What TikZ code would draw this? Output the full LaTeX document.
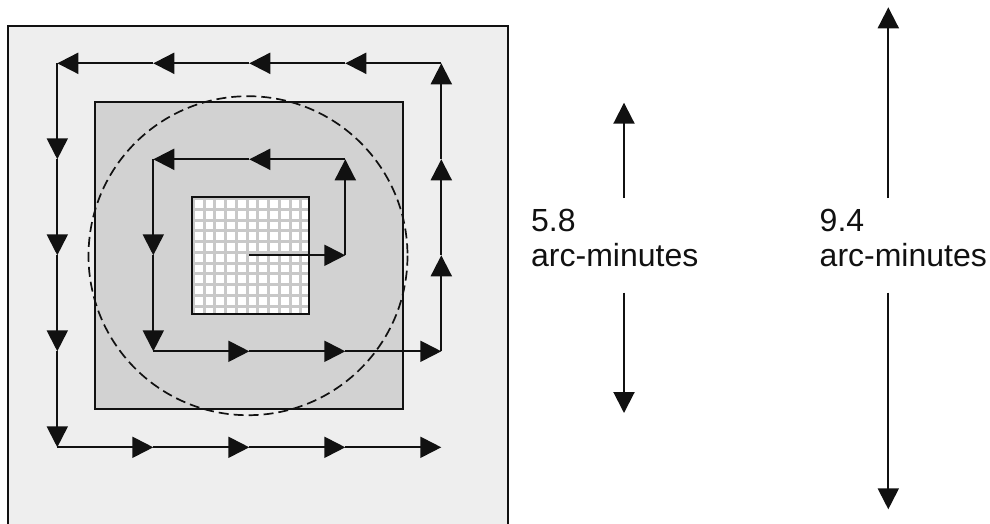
\documentclass[tikz,border=0pt]{standalone}
\usepackage{fontspec}
\setmainfont{Liberation Sans}
\usetikzlibrary{arrows.meta}

\definecolor{outerfill}{HTML}{EEEEEE}
\definecolor{midfill}{HTML}{D2D2D2}
\definecolor{gridline}{HTML}{C8C8C8}
\definecolor{ink}{HTML}{111111}

\tikzset{
  bigtip/.tip={Triangle[length=21pt,width=21pt]},
  scanseg/.style={draw=ink, line width=2pt, -bigtip},
  dimarrow/.style={draw=ink, line width=2pt, -bigtip},
  dimlabel/.style={anchor=base west, inner sep=0pt, font=\fontsize{32}{38}\selectfont, text=ink},
}

\begin{document}
\begin{tikzpicture}[x=1pt,y=-1pt]
  \useasboundingbox (0,0) rectangle (990,523);

  % outer field (runs off the bottom edge)
  \fill[outerfill] (8.3,26) rectangle (507.5,530);
  \draw[ink, line width=2pt] (8.3,530) -- (8.3,26) -- (507.5,26) -- (507.5,530);

  % middle field
  \draw[ink, line width=1.8pt, fill=midfill] (95,101.7) rectangle (402.7,408.7);

  % detector grid
  \fill[white] (191.7,197) rectangle (309.3,314.3);
  \begin{scope}
    \clip (191.7,197) rectangle (309.3,314.3);
    \foreach \k in {0,...,11} {
      \draw[gridline, line width=3pt] ({193.3+10.75*\k},190) -- ({193.3+10.75*\k},320);
      \draw[gridline, line width=3pt] (185,{198.6+10.75*\k}) -- (315,{198.6+10.75*\k});
    }
  \end{scope}
  \draw[ink, line width=2pt] (191.7,197) rectangle (309.3,314.3);

  % dashed field of view
  \draw[ink, line width=1.7pt, dash pattern=on 10pt off 5pt] (248,255.7) circle (159.5);

  % scan positions
  \foreach \c in {0,...,4} {
    \foreach \r in {0,...,4} {
      \coordinate (g-\c-\r) at ({57.3+96*\c},{63.3+96*\r});
    }
  }

  % spiral scan path, one step per segment
  \foreach \ac/\ar/\bc/\br in {
      2/2/3/2, 3/2/3/1, 3/1/2/1, 2/1/1/1, 1/1/1/2, 1/2/1/3,
      1/3/2/3, 2/3/3/3, 3/3/4/3, 4/3/4/2, 4/2/4/1, 4/1/4/0,
      4/0/3/0, 3/0/2/0, 2/0/1/0, 1/0/0/0, 0/0/0/1, 0/1/0/2,
      0/2/0/3, 0/3/0/4, 0/4/1/4, 1/4/2/4, 2/4/3/4, 3/4/4/4} {
    \draw[scanseg] (g-\ac-\ar) -- (g-\bc-\br);
  }

  % 5.8 arc-minute dimension
  \coordinate (a58t) at (624,102.7);
  \coordinate (a58u) at (624,198);
  \coordinate (a58l) at (624,292.7);
  \coordinate (a58b) at (624,413);
  \draw[dimarrow] (a58u) -- (a58t);
  \draw[dimarrow] (a58l) -- (a58b);
  \node[dimlabel] (t58a) at (531,231) {5.8};
  \node[dimlabel] (t58b) at (531,266.7) {arc-minutes};

  % 9.4 arc-minute dimension
  \coordinate (a94t) at (888.3,7.3);
  \coordinate (a94u) at (888.3,198);
  \coordinate (a94l) at (888.3,292.7);
  \coordinate (a94b) at (888.3,509.3);
  \draw[dimarrow] (a94u) -- (a94t);
  \draw[dimarrow] (a94l) -- (a94b);
  \node[dimlabel] (t94a) at (819.5,231) {9.4};
  \node[dimlabel] (t94b) at (819.5,266.7) {arc-minutes};
\end{tikzpicture}
\end{document}
